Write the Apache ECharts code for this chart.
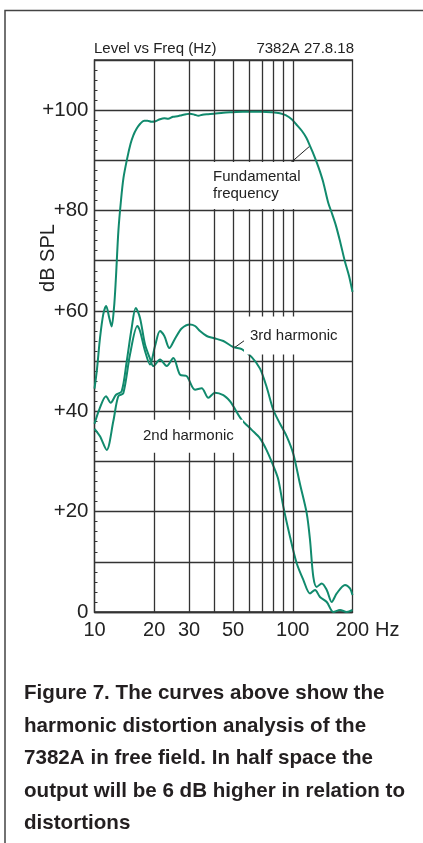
<!DOCTYPE html>
<html>
<head>
<meta charset="utf-8">
<script src="https://cdn.jsdelivr.net/npm/echarts@6/dist/echarts.min.js"></script>
<style>
html,body{margin:0;padding:0;background:#fff;}
#c{width:423px;height:843px;}
</style>
</head>
<body>
<div id="c"></div>
<script>
// ---- data ----
const fundFreq  = [10, 10.3, 10.66, 11.07, 11.45, 11.87, 12.2, 12.54, 12.8, 13.2, 13.6, 14.0, 14.6, 15.2, 15.7, 16.3, 17.0, 17.8, 18.5, 19.4, 20.3, 21.4, 22.5, 23.5, 24.9, 26.2, 27.5, 29, 30.3, 32, 33.4, 35, 36.8, 40, 44.6, 50, 56, 63, 70, 78, 86, 92, 98.7, 104, 111, 117, 122, 127, 132, 137, 142.5, 151, 157, 165, 174, 183, 192, 200];
const fundLevel = [44.5, 48.5, 54.6, 59.3, 61, 58.6, 56.9, 60.6, 66, 76, 82, 86.5, 90.3, 93.3, 95, 96.3, 97.3, 97.9, 97.9, 97.7, 97.8, 98.2, 98.4, 98.3, 98.7, 98.8, 99.0, 99.2, 99.3, 99.1, 98.9, 99.1, 99.2, 99.3, 99.5, 99.6, 99.7, 99.7, 99.7, 99.6, 99.4, 99.0, 98.2, 97.2, 95.9, 94.5, 92.9, 91.3, 89.6, 87.8, 85.6, 81.5, 79.6, 77, 73.5, 69.9, 67, 63.8];

const h2Freq  = [10, 10.6, 11.43, 12.07, 12.84, 13.71, 14.54, 15.4, 16.14, 16.96, 17.98, 19.05, 19.8, 21.4, 23.13, 24.97, 26.99, 29.17, 32.13, 34.72, 37.49, 40.52, 44.63, 48.24, 50.12, 55.26, 62.05, 68.32, 73.85, 81.3, 84.6, 89.58, 96.81, 104.6, 113, 122.1, 129.4, 137.1, 148.3, 160.1, 173, 187, 200];
const h2Level = [37.5, 40.5, 43, 41.7, 43.3, 44, 50, 56.6, 60.6, 58.6, 53.3, 50.5, 49, 50.3, 49, 50.6, 47.3, 47, 44.3, 44.6, 42.7, 43.7, 43.2, 42, 41, 38.3, 36.3, 34.6, 32.2, 28.3, 26.3, 21, 15, 9.7, 6.4, 3.7, 4.4, 3, 2, 0, 0.4, 0, 0.4];

const h3Freq  = [10, 10.66, 11.52, 12.44, 13.18, 13.97, 15.1, 16.44, 16.96, 17.98, 19.05, 20.19, 21.4, 22.5, 23.84, 25.5, 27.5, 30.3, 32.13, 34.04, 36.8, 39.72, 44.63, 50.12, 55.26, 62.05, 68.32, 73.85, 79.73, 86.21, 93.16, 100.6, 108.7, 117.5, 122.1, 126.9, 132, 139.9, 148.3, 157.1, 166.5, 183.3, 194.3, 200];
const h3Level = [36.5, 35, 32.3, 38, 43, 43.6, 51.3, 57, 56, 52, 49.3, 53, 56, 55, 52.6, 54.5, 56.5, 57.3, 57, 56, 55, 54.6, 54, 52.8, 52.4, 50.8, 48.5, 44.8, 40.3, 37.5, 35, 31.5, 25.5, 19.7, 14.4, 7, 5, 5.7, 4.4, 2, 3.7, 5.4, 4.7, 3.4];

const gridFreqs = [20, 30, 40, 50, 60, 70, 80, 90, 100];
const xTickLabels = [10, 20, 30, 50, 100, 200];
const yLabelValues = [0, 20, 40, 60, 80, 100];

const titleLeft = 'Level vs Freq (Hz)';
const titleRight = '7382A 27.8.18';
const yName = 'dB SPL';
const xName = 'Hz';
const captionLines = [
  'Figure 7. The curves above show the',
  'harmonic distortion analysis of the',
  '7382A in free field. In half space the',
  'output will be 6 dB higher in relation to',
  'distortions'
];

// annotation anchors (data coords) and texts
const fundNote = {text: 'Fundamental\nfrequency', at: [36.07, 85.0], ptr: [[96.8, 89.4], [121.1, 92.75]]};
const h3Note = {text: '3rd harmonic', at: [56.75, 55.09], ptr: [[60.84, 54.9], [51.1, 52.75]]};
const h2Note = {text: '2nd harmonic', at: [16.76, 35.03], ptr: [[51.1, 36.1], [55.26, 38.0]]};

// ---- chart ----
const FONT = '"Liberation Sans", Arial, Helvetica, sans-serif';
const curveColor = '#118a6d';
const gridColor = '#333333';
const textColor = '#222222';
const pair = (fs, ls) => fs.map((f, i) => [f, ls[i]]);

const chart = echarts.init(document.getElementById('c'), null, {renderer: 'canvas'});

function curve(name, fs, ls) {
  return {
    name: name, type: 'line', data: pair(fs, ls), z: 3,
    showSymbol: false, symbol: 'none', smooth: 0.3,
    lineStyle: {color: curveColor, width: 2},
    silent: true, animation: false
  };
}

function noteLabel(note, pad, w, lh) {
  return {
    coord: note.at,
    symbol: 'rect', symbolSize: 0,
    label: {
      show: true, position: 'right', distance: 0,
      formatter: note.text, backgroundColor: '#ffffff',
      padding: pad, width: w, lineHeight: lh,
      fontSize: 15, color: textColor, fontFamily: FONT, align: 'left'
    }
  };
}

const option = {
  animation: false,
  backgroundColor: '#ffffff',
  textStyle: {fontFamily: FONT},
  title: [
    {text: titleLeft, left: 94, top: 41, padding: 0,
     textStyle: {fontSize: 15, fontWeight: 'normal', color: textColor, fontFamily: FONT}},
    {text: titleRight, right: 69, top: 41, padding: 0,
     textStyle: {fontSize: 15, fontWeight: 'normal', color: textColor, fontFamily: FONT}},
    {text: captionLines.join('\n'), left: 24, top: 677.5, padding: 0,
     textStyle: {fontSize: 20.6, fontWeight: 'bold', lineHeight: 32.5, color: '#231f20', fontFamily: FONT}}
  ],
  graphic: [
    {type: 'polyline', silent: true, shape: {points: [[5, 843], [5, 10.5], [423, 10.5]]},
     style: {stroke: '#444', lineWidth: 1.5, fill: null}},
    {type: 'text', silent: true, x: 48, y: 258, rotation: Math.PI / 2,
     style: {text: yName, fontSize: 20, fill: textColor, fontFamily: FONT, align: 'center', verticalAlign: 'middle'}}
  ],
  grid: {left: 94.5, right: 70.5, top: 60, bottom: 231, show: true,
         borderColor: gridColor, borderWidth: 1.3, backgroundColor: 'transparent'},
  xAxis: {
    type: 'log', logBase: 10, min: 10, max: 200,
    name: xName, nameLocation: 'end', nameGap: 20.5,
    nameTextStyle: {fontSize: 20, color: textColor, fontFamily: FONT, verticalAlign: 'top', padding: [8, 0, 0, 0]},
    axisLine: {show: true, lineStyle: {color: gridColor, width: 1.3}},
    axisTick: {show: false},
    splitLine: {show: false}, minorSplitLine: {show: false},
    axisLabel: {customValues: xTickLabels, fontSize: 20, color: textColor, margin: 8, fontFamily: FONT,
                formatter: v => String(Math.round(v))}
  },
  yAxis: {
    type: 'value', min: 0, max: 110, interval: 10,
    axisLine: {show: true, lineStyle: {color: gridColor, width: 1.3}},
    axisTick: {show: false, inside: true},
    minorTick: {show: true, splitNumber: 5, length: 3, lineStyle: {color: gridColor, width: 1}},
    splitLine: {show: true, lineStyle: {color: gridColor, width: 1.3}},
    axisLabel: {fontSize: 20.5, color: textColor, margin: 6, fontFamily: FONT,
                formatter: v => yLabelValues.indexOf(v) >= 0 ? (v > 0 ? '+' + v : '0') : ''}
  },
  series: [
    {
      name: 'grid', type: 'line', data: [], z: 1, silent: true,
      markLine: {
        silent: true, symbol: ['none', 'none'], animation: false,
        label: {show: false},
        lineStyle: {color: gridColor, width: 1.3, type: 'solid'},
        emphasis: {disabled: true},
        data: gridFreqs.map(f => ({xAxis: f}))
      }
    },
    {
      name: 'notes', type: 'line', data: [], z: 2, silent: true,
      markPoint: {
        silent: true, animation: false,
        data: [
          noteLabel(fundNote, [5, 6, 8, 8], 90, 17),
          noteLabel(h3Note, [8, 10, 14, 6], 90, 16),
          noteLabel(h2Note, [9, 7, 8, 4], 93, 16)
        ]
      }
    },
    curve('Fundamental', fundFreq, fundLevel),
    curve('3rd harmonic', h3Freq, h3Level),
    curve('2nd harmonic', h2Freq, h2Level),
    {
      name: 'pointers', type: 'line', data: [], z: 4, silent: true,
      markLine: {
        silent: true, symbol: ['none', 'none'], animation: false,
        label: {show: false},
        lineStyle: {color: textColor, width: 1, type: 'solid'},
        emphasis: {disabled: true},
        data: [fundNote, h3Note, h2Note].map(n => [{coord: n.ptr[0]}, {coord: n.ptr[1]}])
      }
    }
  ]
};

chart.setOption(option);
</script>
</body>
</html>
